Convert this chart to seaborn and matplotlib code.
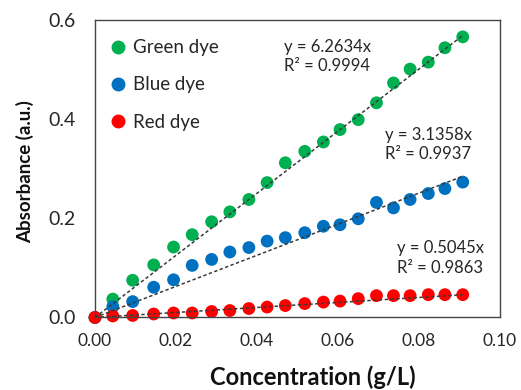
import numpy as np
import pandas as pd
import matplotlib
matplotlib.use("Agg")
import matplotlib.pyplot as plt
import seaborn as sns
from matplotlib.lines import Line2D

# concentrations (g/L)
conc = [0.0, 0.0044, 0.0093, 0.0145, 0.0194, 0.0240, 0.0288, 0.0333, 0.0380, 0.0425,
        0.0470, 0.0518, 0.0564, 0.0605, 0.0650, 0.0695, 0.0737, 0.0778, 0.0823, 0.0864, 0.0908]

green = [0.0, 0.037, 0.075, 0.106, 0.142, 0.167, 0.193, 0.213, 0.238, 0.272,
         0.312, 0.335, 0.354, 0.379, 0.399, 0.433, 0.473, 0.501, 0.515, 0.544, 0.566]
blue = [0.0, 0.022, 0.032, 0.061, 0.076, 0.105, 0.117, 0.132, 0.141, 0.154,
        0.161, 0.171, 0.184, 0.187, 0.199, 0.232, 0.221, 0.238, 0.250, 0.260, 0.273]
red = [0.0, 0.003, 0.004, 0.007, 0.009, 0.009, 0.012, 0.014, 0.018, 0.021,
       0.024, 0.028, 0.031, 0.033, 0.038, 0.044, 0.044, 0.044, 0.046, 0.046, 0.046]

dyes = ["Green dye", "Blue dye", "Red dye"]
colors = ["#00B050", "#0070C0", "#FF0000"]
slopes = [6.2634, 3.1358, 0.5045]
r2 = [0.9994, 0.9937, 0.9863]

df = pd.DataFrame({
    "conc": conc * 3,
    "abs": green + blue + red,
    "dye": [d for d in dyes for _ in conc],
})

sns.set_theme(style="white")
plt.rcParams["font.family"] = ["Lato", "DejaVu Sans"]

fig = plt.figure(figsize=(5.21, 3.9), dpi=100)
ax = fig.add_axes([0.1823, 0.186, 0.7774, 0.7627])

sns.scatterplot(data=df, x="conc", y="abs", hue="dye", palette=colors,
                hue_order=dyes, s=85, linewidth=0, ax=ax, legend=False, zorder=2)

# trendlines through origin
xl = np.array([0.0, max(conc)])
for k in slopes:
    ax.plot(xl, k * xl, color="#3a3a3a", ls=(0, (2.2, 1.6)), lw=1.1, zorder=3)

# trendline equations
eq_pos = [(0.0467, 0.526), (0.0716, 0.349), (0.0746, 0.120)]
for (x, y), k, r in zip(eq_pos, slopes, r2):
    ax.text(x, y, f"y = {k:.4f}x\nR² = {r:.4f}", ha="left", va="center",
            fontsize=12, color="#262626", linespacing=1.25)

handles = [Line2D([0], [0], marker="o", ls="", color=c, markersize=9) for c in colors]
ax.legend(handles, dyes, loc="upper left", frameon=False, fontsize=13.5,
          handletextpad=0.25, labelspacing=1.08, borderaxespad=0.3,
          handlelength=1.1, bbox_to_anchor=(0.0, 0.98))

ax.set_xlim(0, 0.10)
ax.set_ylim(0, 0.6)
ax.set_xticks(np.arange(0, 0.101, 0.02))
ax.set_yticks(np.arange(0, 0.61, 0.2))
ax.xaxis.set_major_formatter(matplotlib.ticker.FormatStrFormatter("%.2f"))
ax.yaxis.set_major_formatter(matplotlib.ticker.FormatStrFormatter("%.1f"))
ax.tick_params(length=0, labelcolor="#262626")
ax.tick_params(axis="x", pad=11, labelsize=12.5)
ax.tick_params(axis="y", pad=14, labelsize=14)

ax.set_xlabel("Concentration (g/L)", fontsize=17, fontweight="bold", color="#111111")
ax.set_ylabel("Absorbance (a.u.)", fontsize=13.5, fontweight="bold", color="#111111")
ax.xaxis.set_label_coords(0.538, -0.16)
ax.yaxis.set_label_coords(-0.15, 0.49)

for sp in ax.spines.values():
    sp.set_color("#444444")
    sp.set_linewidth(1.0)

for coll in ax.collections:
    coll.set_clip_on(False)

fig.savefig("out.png", dpi=100)
